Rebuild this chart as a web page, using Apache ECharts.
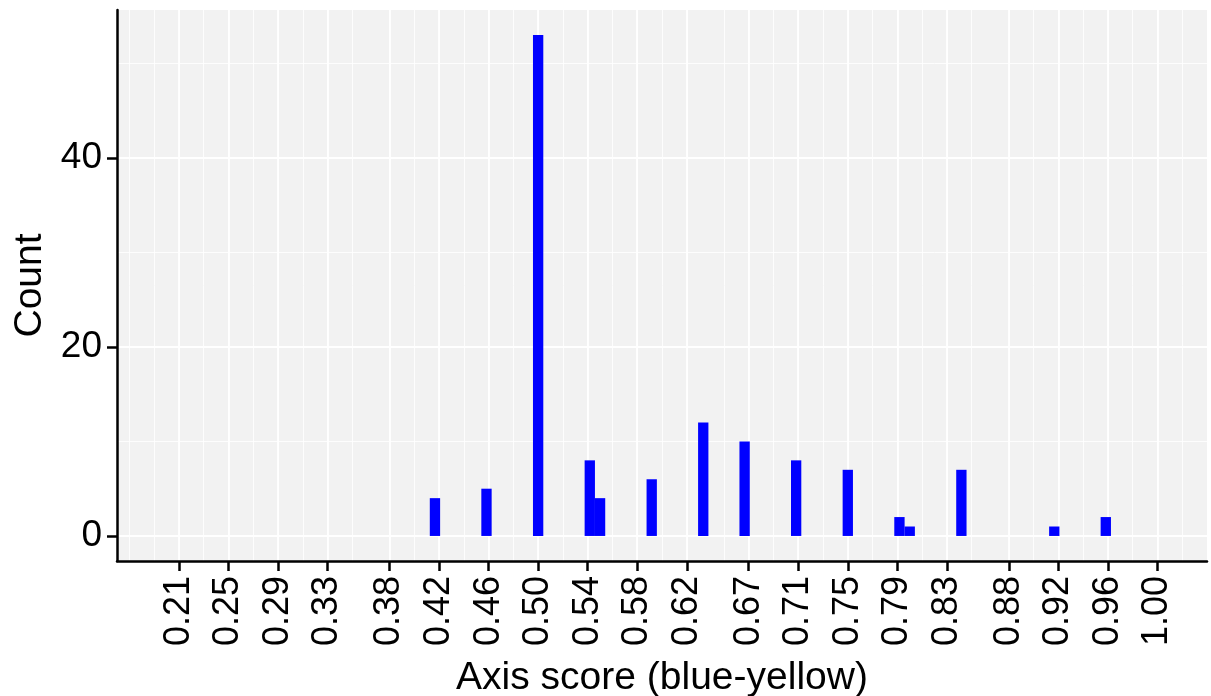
<!DOCTYPE html>
<html>
<head>
<meta charset="utf-8">
<script src="https://cdn.jsdelivr.net/npm/echarts@6/dist/echarts.min.js"></script>
<style>
  html, body { margin: 0; padding: 0; background: #fff; }
  #chart { width: 1211px; height: 696px; }
</style>
</head>
<body>
<div id="chart"></div>
<script>
// histogram bins (centre of each 1/120-wide bin) and their counts
const binCenters = [0.4167, 0.4583, 0.5, 0.5417, 0.55, 0.5917, 0.6333, 0.6667, 0.7083, 0.75, 0.7917, 0.8, 0.8417, 0.9167, 0.9583];
const counts = [4, 5, 53, 8, 4, 6, 12, 10, 8, 7, 2, 1, 7, 1, 2];
const binWidth = 1 / 120;

// axis breaks as printed
const xTicks = [0.21, 0.25, 0.29, 0.33, 0.38, 0.42, 0.46, 0.50, 0.54, 0.58, 0.62, 0.67, 0.71, 0.75, 0.79, 0.83, 0.88, 0.92, 0.96, 1.00];
const yTicks = [0, 20, 40];
const yMinor = [10, 30, 50];

const xMin = 0.16, xMax = 1.04;
const yMin = -2.65, yMax = 55.65;

// minor grid = midpoints between breaks, extended one step past each end
const step = xTicks[1] - xTicks[0];
const ext = [xTicks[0] - step, ...xTicks, xTicks[xTicks.length - 1] + step];
const xMinor = [];
for (let i = 0; i < ext.length - 1; i++) {
  xMinor.push(ext[i], (ext[i] + ext[i + 1]) / 2);
}
xMinor.push(ext[ext.length - 1]);
const xMinorIn = xMinor.filter(v => v >= xMin && v <= xMax);

const font = 'Liberation Sans, Arial, sans-serif';
const chart = echarts.init(document.getElementById('chart'));

chart.setOption({
  animation: false,
  backgroundColor: '#fff',
  grid: {
    left: 117, right: 4, top: 10, bottom: 135,
    outerBoundsMode: 'none', containLabel: false,
    show: true, backgroundColor: '#f2f2f2', borderWidth: 0
  },
  xAxis: {
    type: 'value', min: xMin, max: xMax, z: 20,
    name: 'Axis score (blue-yellow)', nameLocation: 'middle', nameGap: 98,
    nameTextStyle: { fontSize: 39, color: '#000', fontFamily: font },
    axisLine: { onZero: false, lineStyle: { color: '#000', width: 2.5 } },
    axisTick: { show: true, customValues: xTicks, length: 10, lineStyle: { color: '#000', width: 2.5 } },
    minorTick: { show: false },
    axisLabel: {
      customValues: xTicks, rotate: 90, margin: 15,
      formatter: v => v.toFixed(2),
      fontSize: 36, color: '#000', fontFamily: font
    },
    splitLine: { show: false }
  },
  yAxis: {
    type: 'value', min: yMin, max: yMax, z: 20,
    name: 'Count', nameLocation: 'middle', nameGap: 58,
    nameTextStyle: { fontSize: 39, color: '#000', fontFamily: font },
    axisLine: { show: true, lineStyle: { color: '#000', width: 2.5 } },
    axisTick: { show: true, customValues: yTicks, length: 10, lineStyle: { color: '#000', width: 2.5 } },
    minorTick: { show: false },
    axisLabel: { customValues: yTicks, margin: 15, fontSize: 37, color: '#000', fontFamily: font },
    splitLine: { show: false }
  },
  series: [
    {
      type: 'line', data: [], z: 1, silent: true,
      markLine: {
        z: 1, silent: true, symbol: ['none', 'none'], label: { show: false },
        lineStyle: { color: '#fff', width: 0.8, type: 'solid' },
        emphasis: { disabled: true },
        data: [
          ...xMinorIn.map(v => ({ xAxis: v })),
          ...yMinor.map(v => ({ yAxis: v }))
        ]
      }
    },
    {
      type: 'line', data: [], z: 1, silent: true,
      markLine: {
        z: 2, silent: true, symbol: ['none', 'none'], label: { show: false },
        lineStyle: { color: '#fff', width: 1.8, type: 'solid' },
        emphasis: { disabled: true },
        data: [
          ...xTicks.map(v => ({ xAxis: v })),
          ...yTicks.map(v => ({ yAxis: v }))
        ]
      }
    },
    {
      type: 'custom', z: 10,
      data: binCenters.map((x, i) => [x, counts[i]]),
      encode: { x: 0, y: 1 },
      renderItem: (params, api) => {
        const x = api.value(0);
        const c = api.value(1);
        const p0 = api.coord([x - binWidth / 2, c]);
        const p1 = api.coord([x + binWidth / 2, 0]);
        return {
          type: 'rect',
          shape: { x: p0[0], y: p0[1], width: p1[0] - p0[0], height: p1[1] - p0[1] },
          style: { fill: '#0000ff' }
        };
      }
    }
  ]
});
</script>
</body>
</html>
